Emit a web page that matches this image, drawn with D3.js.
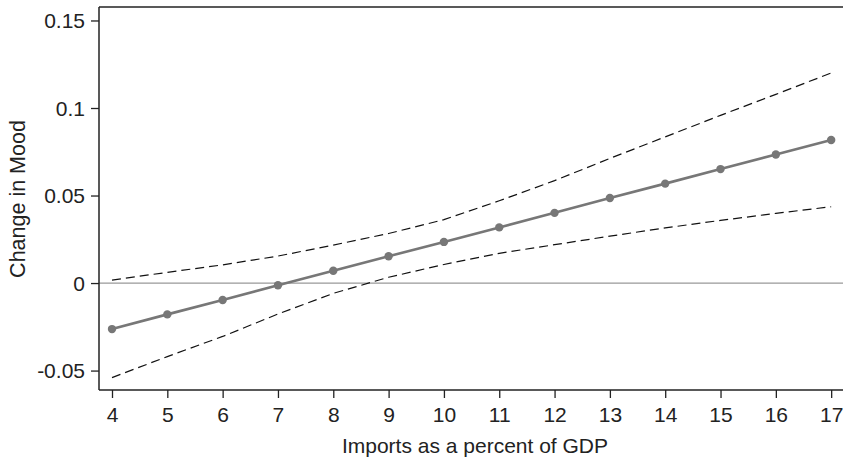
<!DOCTYPE html>
<html>
<head>
<meta charset="utf-8">
<script src="https://cdn.jsdelivr.net/npm/d3@7"></script>
<style>
  html, body { margin: 0; padding: 0; background: #fff; }
  svg { display: block; font-family: "Liberation Sans", Arial, Helvetica, sans-serif; }
</style>
</head>
<body>
<svg id="chart" width="843" height="460"></svg>
<script>
// imports as % of GDP
const importsPct = [4, 5, 6, 7, 8, 9, 10, 11, 12, 13, 14, 15, 16, 17];
// marginal effect on change in mood
const effect = [-0.0263, -0.0179, -0.0097, -0.0013, 0.0070, 0.0153, 0.0235, 0.0318, 0.0401, 0.0486, 0.0568, 0.0651, 0.0734, 0.0817];
const upperCI = [0.0017, 0.0061, 0.0104, 0.0154, 0.0217, 0.0283, 0.0362, 0.0470, 0.0585, 0.0712, 0.0835, 0.0958, 0.1078, 0.1200];
const lowerCI = [-0.0540, -0.0420, -0.0305, -0.0177, -0.0059, 0.0033, 0.0106, 0.0170, 0.0219, 0.0268, 0.0315, 0.0358, 0.0398, 0.0436];
const yTicks = [-0.05, 0, 0.05, 0.1, 0.15];

const svg = d3.select("#chart");
const plotLeft = 99, plotRight = 845, plotTop = 7, plotBottom = 390;

const x = d3.scaleLinear().domain([3.765, 17.25]).range([plotLeft, plotRight]);
const y = d3.scaleLinear().domain([-0.0611, 0.1577]).range([plotBottom, plotTop]);

const fontSize = 21;

// zero reference line
svg.append("line")
    .attr("x1", plotLeft).attr("x2", plotRight)
    .attr("y1", y(0)).attr("y2", y(0))
    .attr("stroke", "#999").attr("stroke-width", 1.2);

// frame: top line
svg.append("line")
    .attr("x1", plotLeft).attr("x2", plotRight)
    .attr("y1", plotTop).attr("y2", plotTop)
    .attr("stroke", "#222").attr("stroke-width", 1.5);

const yAxis = svg.append("g")
    .attr("transform", `translate(${plotLeft},0)`)
    .call(d3.axisLeft(y).tickValues(yTicks).tickSize(8).tickPadding(6)
        .tickFormat(d => String(d)));

const xAxis = svg.append("g")
    .attr("transform", `translate(0,${plotBottom})`)
    .call(d3.axisBottom(x).tickValues(importsPct).tickSize(8).tickPadding(8)
        .tickFormat(d => String(d)));

[yAxis, xAxis].forEach(a => {
    a.select(".domain").remove();
    a.selectAll(".tick line").attr("stroke", "#222").attr("stroke-width", 1.3);
    a.selectAll(".tick text").attr("fill", "#222").style("font-size", fontSize + "px");
});
yAxis.selectAll(".tick text").attr("dy", "0.34em");
xAxis.selectAll(".tick text").attr("dy", "0.75em");

// axis lines
svg.append("line").attr("x1", plotLeft).attr("x2", plotLeft).attr("y1", plotTop).attr("y2", plotBottom)
    .attr("stroke", "#222").attr("stroke-width", 1.5);
svg.append("line").attr("x1", plotLeft).attr("x2", plotRight).attr("y1", plotBottom).attr("y2", plotBottom)
    .attr("stroke", "#222").attr("stroke-width", 1.5);

// confidence bounds
const valLine = d3.line().x((d, i) => x(importsPct[i])).y(d => y(d));
[upperCI, lowerCI].forEach(ci => {
    svg.append("path")
        .datum(ci)
        .attr("d", valLine)
        .attr("fill", "none")
        .attr("stroke", "#111")
        .attr("stroke-width", 1.2)
        .attr("stroke-dasharray", "9,5");
});

// estimate line + markers
svg.append("path")
    .datum(effect)
    .attr("d", valLine)
    .attr("fill", "none")
    .attr("stroke", "#777")
    .attr("stroke-width", 2.6);

svg.selectAll(".pt")
    .data(effect)
    .enter().append("circle")
    .attr("class", "pt")
    .attr("cx", (d, i) => x(importsPct[i]))
    .attr("cy", d => y(d))
    .attr("r", 4.2)
    .attr("fill", "#777");

// titles
svg.append("text")
    .attr("x", (342 + 608) / 2).attr("y", 453)
    .attr("text-anchor", "middle")
    .attr("fill", "#222")
    .style("font-size", fontSize + "px")
    .text("Imports as a percent of GDP");

svg.append("text")
    .attr("transform", `translate(25,199) rotate(-90)`)
    .attr("text-anchor", "middle")
    .attr("fill", "#222")
    .style("font-size", "21.5px")
    .text("Change in Mood");
</script>
</body>
</html>
